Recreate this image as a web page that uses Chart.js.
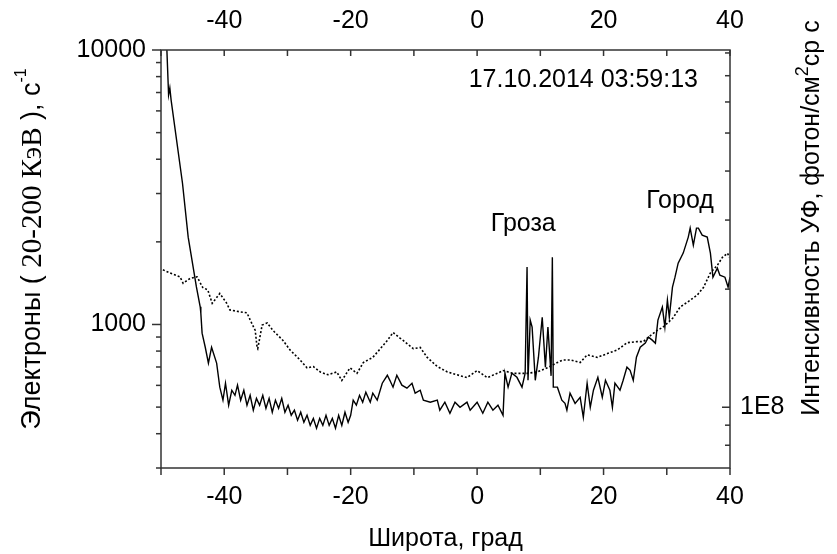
<!DOCTYPE html>
<html>
<head>
<meta charset="utf-8">
<script src="https://cdn.jsdelivr.net/npm/chart.js@4/dist/chart.umd.min.js"></script>
<style>
html,body{margin:0;padding:0;background:#fff;}
canvas{display:block;}
</style>
</head>
<body>
<canvas id="c" width="837" height="554"></canvas>
<script>
// ---- data ----
const solidLat = [-49.2,-48.8,-48.6,-48.4,-46.6,-45.7,-44.4,-43.8,-43.7,-43.5,-43.0,-42.5,-42.0,-41.2,-40.7,
 -40.2,-39.8,-39.3,-38.8,-38.3,-37.9,-37.4,-36.9,-36.4,-35.9,-35.4,-34.9,-34.4,-33.9,-33.4,-32.9,-32.4,-31.9,-31.4,-30.9,
 -30.4,-29.9,-29.4,-28.9,-28.4,-27.9,-27.4,-26.9,-26.4,-25.9,-25.4,-24.9,-24.4,-23.9,-23.4,-22.9,-22.4,-21.9,-21.4,-20.9,
 -20.4,-20.0,-19.6,-19.1,-18.6,-18.1,-17.6,-16.9,-16.5,-15.8,-15.0,-14.2,-13.8,-13.3,-12.7,-11.9,-11.1,-10.3,-9.8,-9.0,
 -8.5,-7.4,-6.3,-5.9,-5.1,-4.3,-3.5,-2.7,-1.6,-1.1,0.0,0.9,1.7,2.5,3.3,4.1,4.4,4.9,5.5,6.3,7.1,7.6,7.9,8.05,8.4,8.7,9.2,
 9.7,10.3,10.8,11.2,11.7,11.9,12.05,12.7,13.4,13.9,14.2,14.7,15.5,16.3,16.8,17.4,17.9,18.4,19.1,19.8,20.3,21.0,21.4,21.8,
 22.6,23.1,23.7,24.2,24.7,25.2,25.8,26.6,27.1,27.7,28.2,28.6,29.3,29.7,30.1,30.4,30.9,31.3,31.8,32.6,33.4,33.7,34.2,34.7,
 35.0,35.6,36.4,36.9,37.3,38.0,38.4,39.2,39.7,40.0];
const solidCounts = [12000,6860,7270,6570,3270,2080,1370,1160,1100,930,826,723,826,723,591,
 530,611,508,576,552,601,530,576,508,552,487,538,508,552,495,538,479,530,495,538,
 479,508,467,487,448,479,440,467,429,455,419,455,429,467,429,455,419,467,429,479,
 440,467,530,508,552,521,567,521,562,530,611,653,626,591,653,601,586,611,562,576,
 530,521,530,487,521,475,521,499,521,487,521,475,521,487,508,467,665,591,665,642,591,665,1618,626,1037,978,626,
 760,1063,699,978,650,1759,591,591,530,516,487,562,516,543,459,611,499,576,642,543,626,576,499,611,
 576,626,699,681,626,760,826,855,899,877,855,1037,1157,978,1226,1063,1368,1487,1673,1820,2081,2244,1946,2244,
 2244,2116,2081,1820,1487,1604,1512,1487,1368,1487];

const uvLat = [-49.7,-48.6,-47.0,-46.5,-45.4,-44.3,-43.4,-42.6,-41.9,-40.7,-39.6,-39.1,-37.5,-36.4,-35.9,-35.1,-34.8,-34.7,
 -34.0,-33.2,-32.3,-30.7,-29.6,-28.0,-26.9,-25.9,-24.8,-23.6,-22.2,-21.4,-20.1,-19.0,-18.0,-16.5,-15.3,-14.2,-13.3,
 -12.2,-11.7,-10.1,-9.0,-7.9,-6.3,-4.7,-3.2,-1.6,0.0,1.6,3.2,4.1,5.7,7.9,9.5,11.1,12.7,13.6,14.7,16.3,17.4,19.0,20.6,
 22.2,23.7,25.3,26.3,27.1,28.5,29.4,31.0,32.1,33.2,34.8,35.8,36.9,38.0,38.8,39.6,39.9];
const uvFlux = [2.24e8,2.20e8,2.15e8,2.07e8,2.13e8,2.15e8,2.02e8,1.99e8,1.84e8,1.95e8,1.84e8,1.77e8,1.75e8,1.74e8,1.67e8,1.57e8,1.42e8,1.41e8,
 1.62e8,1.64e8,1.57e8,1.48e8,1.40e8,1.32e8,1.26e8,1.27e8,1.23e8,1.21e8,1.23e8,1.17e8,1.26e8,1.22e8,1.30e8,1.34e8,1.41e8,1.48e8,1.55e8,
 1.50e8,1.48e8,1.41e8,1.42e8,1.34e8,1.27e8,1.23e8,1.21e8,1.19e8,1.24e8,1.19e8,1.22e8,1.24e8,1.22e8,1.22e8,1.23e8,1.26e8,1.30e8,1.32e8,1.32e8,1.30e8,1.36e8,1.34e8,1.37e8,
 1.40e8,1.46e8,1.47e8,1.47e8,1.51e8,1.57e8,1.60e8,1.69e8,1.80e8,1.85e8,1.93e8,2.02e8,2.20e8,2.30e8,2.41e8,2.47e8,2.41e8];

const xTickValues = [-50,-40,-30,-20,-10,0,10,20,30,40];
const xLabelValues = [-40,-20,0,20,40];
const leftTickValues = [300,400,500,600,700,800,900,1000,2000,3000,4000,5000,6000,7000,8000,9000,10000];
const leftLabelValues = [1000,10000];
const rightTickValues = [8e7,9e7,1e8,2e8,3e8,4e8,5e8,6e8,7e8,8e8];
const rightLabelValues = [1e8];
const rightLabelText = ['1E8'];

const annotations = [
  {text:'17.10.2014 03:59:13', lat:16.8, value:7770},
  {text:'Гроза', lat:7.3, value:2320},
  {text:'Город', lat:32.1, value:2815}
];

const SANS = "'Liberation Sans', Arial, sans-serif";
const SERIF = "'Liberation Serif', 'Times New Roman', serif";
const FS = 25;

const W = 837, H = 554, AREA = {left:161, right:730, top:50, bottom:468};

function drawRich(ctx, segs, cx, cy, rot) {
  ctx.save();
  ctx.translate(cx, cy);
  ctx.rotate(rot);
  let total = 0;
  segs.forEach(s => { ctx.font = s.font; s.w = ctx.measureText(s.t).width; total += s.w; });
  let x = -total / 2;
  ctx.textBaseline = 'middle';
  ctx.textAlign = 'left';
  ctx.fillStyle = '#000';
  segs.forEach(s => { ctx.font = s.font; ctx.fillText(s.t, x, s.dy || 0); x += s.w; });
  ctx.restore();
}

const framePlugin = {
  id: 'frameTicks',
  afterDatasetsDraw(chart) {
    const {ctx, chartArea: a, scales} = chart;
    ctx.save();
    ctx.strokeStyle = '#333';
    ctx.lineWidth = 1.5;
    ctx.strokeRect(a.left, a.top, a.right - a.left, a.bottom - a.top);
    const line = (x1, y1, x2, y2) => { ctx.beginPath(); ctx.moveTo(x1, y1); ctx.lineTo(x2, y2); ctx.stroke(); };
    xTickValues.forEach(v => {
      const pb = scales.x.getPixelForValue(v);
      line(pb, a.bottom, pb, a.bottom + 7);
      const pt = scales.x2.getPixelForValue(v);
      line(pt, a.top, pt, a.top + 6);
    });
    leftTickValues.forEach(v => {
      const py = scales.y.getPixelForValue(v);
      const major = leftLabelValues.includes(v);
      line(a.left - (major ? 9 : 5), py, a.left, py);
    });
    rightTickValues.forEach(v => {
      const py = scales.y2.getPixelForValue(v);
      const major = rightLabelValues.includes(v);
      line(a.right - (major ? 8 : 5), py, a.right, py);
    });
    ctx.restore();

    // annotations
    ctx.save();
    ctx.fillStyle = '#000';
    ctx.font = FS + 'px ' + SANS;
    ctx.textAlign = 'center';
    ctx.textBaseline = 'middle';
    annotations.forEach(an => {
      ctx.fillText(an.text, scales.x.getPixelForValue(an.lat), scales.y.getPixelForValue(an.value));
    });
    ctx.restore();

    // axis titles
    const f = FS + 'px ' + SANS;
    drawRich(ctx, [{t:'Широта, град', font:f}], (a.left + a.right) / 2, 539, 0);
    drawRich(ctx, [
      {t:'Электроны ( ', font:'27px ' + SANS},
      {t:'20-200 КэВ', font:'29px ' + SERIF},
      {t:' ), с', font:'27px ' + SANS},
      {t:'-1', font:'16px ' + SANS, dy:-11}
    ], 33, 249, -Math.PI / 2);
    drawRich(ctx, [
      {t:'Интенсивность УФ, фотон/см', font:f},
      {t:'2', font:'18px ' + SANS, dy:-9},
      {t:'ср с', font:f}
    ], 812, 218, -Math.PI / 2);
  }
};

function setTicks(values) {
  return function(scale) { scale.ticks = values.map(v => ({value: v})); };
}

const tickFont = {family: SANS, size: FS};

new Chart(document.getElementById('c'), {
  type: 'line',
  data: {
    datasets: [
      {
        label: 'electrons',
        data: solidLat.map((x, i) => ({x: x, y: solidCounts[i]})),
        xAxisID: 'x', yAxisID: 'y',
        borderColor: '#000', borderWidth: 1.4,
        pointRadius: 0, tension: 0, fill: false
      },
      {
        label: 'uv',
        data: uvLat.map((x, i) => ({x: x, y: uvFlux[i]})),
        xAxisID: 'x', yAxisID: 'y2',
        borderColor: '#000', borderWidth: 1.6, borderDash: [2, 2],
        pointRadius: 0, tension: 0, fill: false
      }
    ]
  },
  options: {
    responsive: false,
    animation: false,
    events: [],
    layout: {padding: 0},
    plugins: {legend: {display: false}, tooltip: {enabled: false}, title: {display: false}},
    scales: {
      x: {
        type: 'linear', position: 'bottom', min: -50, max: 40,
        grid: {display: false, drawTicks: false}, border: {display: false},
        afterBuildTicks: setTicks(xTickValues),
        afterFit(s) { s.height = H - AREA.bottom; },
        ticks: {autoSkip: false, maxRotation: 0, padding: 14, color: '#000', font: tickFont,
          callback: v => xLabelValues.includes(v) ? String(v) : ''}
      },
      x2: {
        type: 'linear', position: 'top', min: -50, max: 40,
        grid: {display: false, drawTicks: false}, border: {display: false},
        afterBuildTicks: setTicks(xTickValues),
        afterFit(s) { s.height = AREA.top; },
        ticks: {autoSkip: false, maxRotation: 0, padding: 14, color: '#000', font: tickFont,
          callback: v => xLabelValues.includes(v) ? String(v) : ''}
      },
      y: {
        type: 'logarithmic', position: 'left', min: 300, max: 10000,
        grid: {display: false, drawTicks: false}, border: {display: false},
        afterBuildTicks: setTicks(leftTickValues),
        afterFit(s) { s.width = AREA.left; },
        ticks: {autoSkip: false, padding: 15, color: '#000', font: tickFont,
          callback: v => leftLabelValues.includes(v) ? String(v) : ''}
      },
      y2: {
        type: 'logarithmic', position: 'right', min: 7e7, max: 8.14e8,
        grid: {display: false, drawTicks: false}, border: {display: false},
        afterBuildTicks: setTicks(rightTickValues),
        afterFit(s) { s.width = W - AREA.right; },
        ticks: {autoSkip: false, padding: 10, color: '#000', font: tickFont,
          callback: v => { const i = rightLabelValues.indexOf(v); return i >= 0 ? rightLabelText[i] : ''; }}
      }
    }
  },
  plugins: [framePlugin]
});
</script>
</body>
</html>
